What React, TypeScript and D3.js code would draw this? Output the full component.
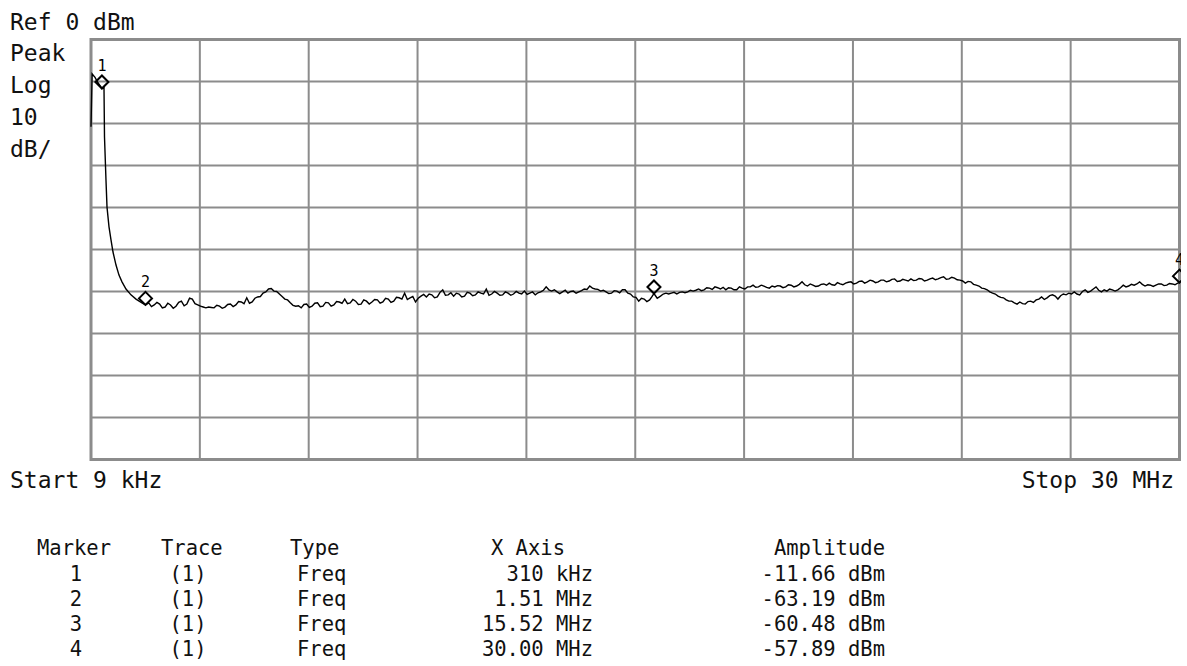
import React from 'react';
import { scaleLinear, line, range } from 'd3';

// sweep: 9 kHz .. 30 MHz, 0 dBm ref, 10 dB/div
const startMHz = 0.009;
const stopMHz = 30;

// [MHz, dBm] - carrier at the start of the sweep
const peakTrace = [
  [0.009, -20.8], [0.04, -8.2], [0.12, -9.0], [0.2, -10.3], [0.31, -11.66],
  [0.367, -11.4], [0.381, -23.2], [0.422, -33.5], [0.45, -39.9], [0.505, -44.6],
  [0.56, -47.7], [0.615, -50.6], [0.698, -53.7], [0.78, -56.1], [0.863, -57.7],
  [0.973, -59.4], [1.11, -60.8], [1.248, -61.8], [1.413, -62.7], [1.51, -63.19],
];

// noise floor
const floorTrace = [
  [1.6, -62.7], [1.675, -63.6], [1.75, -63.2], [1.825, -62.6], [1.9, -63.0], [1.975, -63.9],
  [2.05, -63.7], [2.125, -62.8], [2.2, -63.2], [2.275, -64.0], [2.35, -63.5], [2.425, -62.6],
  [2.5, -62.3], [2.575, -63.4], [2.65, -63.0], [2.725, -61.6], [2.8, -61.8], [2.875, -62.9],
  [2.95, -63.2], [3.025, -63.5], [3.1, -63.7], [3.175, -63.9], [3.25, -63.7], [3.325, -63.8],
  [3.4, -63.9], [3.475, -63.3], [3.55, -63.5], [3.625, -64.0], [3.7, -63.7], [3.775, -63.1],
  [3.85, -63.0], [3.925, -63.6], [4.0, -63.2], [4.075, -62.4], [4.15, -62.5], [4.225, -62.9],
  [4.3, -61.5], [4.375, -62.8], [4.45, -62.5], [4.525, -61.6], [4.6, -61.3], [4.675, -61.2],
  [4.75, -60.4], [4.825, -60.1], [4.9, -59.4], [4.975, -59.3], [5.05, -59.9], [5.125, -60.0],
  [5.2, -60.6], [5.275, -61.2], [5.35, -61.8], [5.425, -62.0], [5.5, -62.7], [5.575, -63.3],
  [5.65, -63.5], [5.725, -63.4], [5.8, -63.9], [5.875, -63.1], [5.95, -63.0], [6.025, -63.8],
  [6.1, -63.5], [6.175, -62.8], [6.25, -62.7], [6.325, -63.6], [6.4, -63.5], [6.475, -62.6],
  [6.55, -62.7], [6.625, -63.5], [6.7, -63.2], [6.775, -62.4], [6.85, -62.5], [6.925, -62.8],
  [7.0, -61.8], [7.075, -62.9], [7.15, -62.7], [7.225, -61.9], [7.3, -62.3], [7.375, -63.1],
  [7.45, -63.0], [7.525, -62.0], [7.6, -62.3], [7.675, -63.0], [7.75, -62.5], [7.825, -61.9],
  [7.9, -62.0], [7.975, -62.8], [8.05, -62.5], [8.125, -61.6], [8.2, -61.8], [8.275, -62.6],
  [8.35, -62.3], [8.425, -61.4], [8.5, -61.5], [8.575, -61.8], [8.65, -60.4], [8.725, -61.9],
  [8.8, -61.5], [8.875, -61.2], [8.95, -62.5], [9.025, -61.6], [9.1, -61.1], [9.175, -60.7],
  [9.25, -61.3], [9.325, -60.6], [9.4, -60.8], [9.475, -61.5], [9.55, -61.3], [9.625, -60.2],
  [9.7, -59.6], [9.775, -60.9], [9.85, -60.8], [9.925, -60.3], [10.0, -61.1], [10.075, -60.4],
  [10.15, -60.6], [10.225, -61.3], [10.3, -61.1], [10.375, -60.2], [10.45, -60.4], [10.525, -61.0],
  [10.6, -60.8], [10.675, -60.1], [10.75, -60.4], [10.825, -60.6], [10.9, -59.4], [10.975, -60.9],
  [11.05, -60.6], [11.125, -60.0], [11.2, -60.4], [11.275, -60.9], [11.35, -60.8], [11.425, -60.1],
  [11.5, -60.4], [11.575, -60.9], [11.65, -60.6], [11.725, -60.0], [11.8, -60.4], [11.875, -60.6],
  [11.95, -59.9], [12.025, -60.7], [12.1, -60.4], [12.175, -60.1], [12.25, -60.8], [12.325, -60.3],
  [12.4, -60.1], [12.475, -59.7], [12.55, -58.9], [12.625, -59.6], [12.7, -59.9], [12.775, -59.6],
  [12.85, -60.1], [12.925, -60.5], [13.0, -60.1], [13.075, -59.7], [13.15, -60.4], [13.225, -60.0],
  [13.3, -59.9], [13.375, -60.4], [13.45, -60.1], [13.525, -59.8], [13.6, -59.4], [13.675, -59.5],
  [13.75, -58.7], [13.825, -59.2], [13.9, -59.4], [13.975, -59.5], [14.05, -59.9], [14.125, -59.7],
  [14.2, -60.1], [14.275, -60.5], [14.35, -60.4], [14.425, -59.8], [14.5, -59.9], [14.575, -60.3],
  [14.65, -59.6], [14.725, -59.6], [14.8, -60.4], [14.875, -60.6], [14.95, -61.3], [15.025, -61.4],
  [15.1, -62.3], [15.175, -61.6], [15.25, -61.8], [15.325, -62.4], [15.4, -62.0], [15.46, -61.3],
  [15.52, -60.48], [15.61, -61.6], [15.7, -61.1], [15.775, -60.6], [15.85, -60.4], [15.925, -60.6],
  [16.0, -60.4], [16.075, -60.2], [16.15, -60.6], [16.225, -60.2], [16.3, -60.1], [16.375, -60.3],
  [16.45, -60.1], [16.525, -59.7], [16.6, -59.9], [16.675, -59.7], [16.75, -59.4], [16.825, -59.8],
  [16.9, -59.6], [16.975, -59.1], [17.05, -59.2], [17.125, -59.5], [17.2, -58.9], [17.275, -59.1],
  [17.35, -59.4], [17.425, -59.0], [17.5, -59.6], [17.575, -59.1], [17.65, -59.2], [17.725, -59.6],
  [17.8, -59.6], [17.875, -58.9], [17.95, -59.2], [18.025, -59.4], [18.1, -58.9], [18.175, -58.9],
  [18.25, -58.5], [18.325, -59.0], [18.4, -58.9], [18.475, -58.5], [18.55, -58.7], [18.625, -59.0],
  [18.7, -59.2], [18.775, -58.7], [18.85, -58.9], [18.925, -58.6], [19.0, -58.7], [19.075, -59.1],
  [19.15, -58.9], [19.225, -58.4], [19.3, -58.5], [19.375, -58.9], [19.45, -58.7], [19.525, -58.3],
  [19.6, -57.7], [19.675, -58.4], [19.75, -58.7], [19.825, -58.2], [19.9, -58.5], [19.975, -58.8],
  [20.05, -58.7], [20.125, -58.3], [20.2, -58.2], [20.275, -58.5], [20.35, -58.0], [20.425, -58.4],
  [20.5, -58.5], [20.575, -57.9], [20.65, -58.2], [20.725, -58.4], [20.8, -58.0], [20.875, -57.8],
  [20.95, -57.7], [21.025, -58.2], [21.1, -58.0], [21.175, -57.6], [21.25, -57.5], [21.325, -58.0],
  [21.4, -57.7], [21.475, -57.3], [21.55, -57.5], [21.625, -57.9], [21.7, -57.7], [21.775, -57.3],
  [21.85, -57.3], [21.925, -57.7], [22.0, -57.5], [22.075, -57.1], [22.15, -57.0], [22.225, -57.6],
  [22.3, -57.5], [22.375, -57.1], [22.45, -57.3], [22.525, -57.5], [22.6, -57.0], [22.675, -57.4],
  [22.75, -57.3], [22.825, -56.9], [22.9, -57.0], [22.975, -57.5], [23.05, -57.3], [23.125, -57.0],
  [23.2, -56.8], [23.275, -57.2], [23.35, -57.0], [23.425, -56.7], [23.5, -56.5], [23.575, -57.1],
  [23.65, -57.0], [23.725, -56.6], [23.8, -56.8], [23.875, -57.2], [23.95, -57.3], [24.025, -57.5],
  [24.1, -58.0], [24.175, -57.6], [24.25, -57.7], [24.325, -58.3], [24.4, -58.5], [24.475, -58.7],
  [24.55, -59.2], [24.625, -59.3], [24.7, -59.6], [24.775, -60.1], [24.85, -60.4], [24.925, -60.6],
  [25.0, -61.1], [25.075, -61.4], [25.15, -61.5], [25.225, -62.0], [25.3, -62.3], [25.375, -62.3],
  [25.45, -62.7], [25.525, -63.0], [25.6, -62.5], [25.675, -62.9], [25.75, -63.0], [25.825, -62.4],
  [25.9, -62.3], [25.975, -62.6], [26.05, -62.0], [26.125, -61.8], [26.2, -61.3], [26.275, -61.9],
  [26.35, -61.5], [26.425, -61.0], [26.5, -60.8], [26.575, -61.1], [26.65, -61.8], [26.725, -61.0],
  [26.8, -60.6], [26.875, -60.8], [26.95, -60.4], [27.025, -60.6], [27.1, -60.1], [27.175, -60.6],
  [27.25, -60.8], [27.325, -60.0], [27.4, -59.6], [27.475, -60.2], [27.55, -59.9], [27.625, -59.4],
  [27.7, -58.9], [27.775, -59.7], [27.85, -60.1], [27.925, -59.6], [28.0, -59.9], [28.075, -59.4],
  [28.15, -59.6], [28.225, -59.9], [28.3, -59.6], [28.375, -59.1], [28.45, -58.5], [28.525, -58.9],
  [28.6, -58.7], [28.675, -58.3], [28.75, -58.5], [28.825, -58.2], [28.9, -57.7], [28.975, -58.3],
  [29.05, -58.7], [29.125, -58.4], [29.2, -58.5], [29.275, -58.8], [29.35, -58.5], [29.425, -58.2],
  [29.5, -58.2], [29.575, -58.6], [29.65, -58.5], [29.725, -58.1], [29.8, -58.2], [29.875, -58.4],
  [29.95, -58.0], [30.0, -57.89],
];

// marker table
const markerIds = ['1', '2', '3', '4'];
const markerFreqs = [0.31, 1.51, 15.52, 30.0];
const markerLabels = ['310 kHz', '1.51 MHz', '15.52 MHz', '30.00 MHz'];
const markerAmps = [-11.66, -63.19, -60.48, -57.89];

const sideLabels = ['Peak', 'Log', '10', 'dB/'];

const W = 1187;
const H = 666;
const plot = { left: 91, right: 1179.5, top: 39.5, bottom: 459.5 };
const font = '"DejaVu Sans Mono", monospace';
const gridColor = '#8c8c8c';

const x = scaleLinear().domain([startMHz, stopMHz]).range([plot.left, plot.right]);
const y = scaleLinear().domain([0, -100]).range([plot.top, plot.bottom]);

const traceLine = line<number[]>()
  .x((d) => x(d[0]))
  .y((d) => y(d[1]));

const App = () => {
  const vGrid = range(1, 10).map((i) => startMHz + (i * (stopMHz - startMHz)) / 10);
  const hGrid = y.ticks(10).filter((t) => t < 0 && t > -100);
  const trace = [...peakTrace, ...floorTrace];

  const rowY = [581, 606, 631, 656];

  return (
    <svg
      width={W}
      height={H}
      style={{ position: 'absolute', left: 0, top: 0, background: '#fff' }}
      fontFamily={font}
    >
      <defs>
        <clipPath id="plot-clip">
          <rect x={plot.left - 2} y={0} width={plot.right - plot.left + 3.5} height={plot.bottom + 2} />
        </clipPath>
      </defs>

      {/* grid */}
      {vGrid.map((f) => (
        <line key={`v${f}`} x1={x(f)} x2={x(f)} y1={plot.top} y2={plot.bottom}
          stroke={gridColor} strokeWidth={2} />
      ))}
      {hGrid.map((t) => (
        <line key={`h${t}`} x1={plot.left} x2={plot.right} y1={y(t)} y2={y(t)}
          stroke={gridColor} strokeWidth={2} />
      ))}
      <rect x={plot.left} y={plot.top} width={plot.right - plot.left} height={plot.bottom - plot.top}
        fill="none" stroke={gridColor} strokeWidth={3} />

      <g clipPath="url(#plot-clip)">
        <path d={traceLine(trace) || ''} fill="none" stroke="#000" strokeWidth={1.4}
          strokeLinejoin="miter" />
        {markerFreqs.map((f, i) => {
          const cx = x(f);
          const cy = y(markerAmps[i]) - 6.5;
          return (
            <g key={markerIds[i]}>
              <path
                d={`M${cx - 6.5},${cy} L${cx},${cy - 6.5} L${cx + 6.5},${cy} L${cx},${cy + 6.5} Z`}
                fill="none" stroke="#000" strokeWidth={2}
              />
              <text x={cx} y={cy - 11} fontSize={15} textAnchor="middle" fill="#000">{markerIds[i]}</text>
            </g>
          );
        })}
      </g>

      {/* screen annotations */}
      <text x={10} y={30} fontSize={23} fill="#111">Ref 0 dBm</text>
      {sideLabels.map((s, i) => (
        <text key={s} x={10} y={61 + i * 32} fontSize={23} fill="#111">{s}</text>
      ))}
      <text x={10} y={488} fontSize={23} fill="#111">Start 9 kHz</text>
      <text x={1174} y={488} fontSize={23} fill="#111" textAnchor="end">Stop 30 MHz</text>

      {/* marker table */}
      <g fontSize={20.5} fill="#111">
        <text x={37} y={555}>Marker</text>
        <text x={161} y={555}>Trace</text>
        <text x={290} y={555}>Type</text>
        <text x={565} y={555} textAnchor="end">X Axis</text>
        <text x={885} y={555} textAnchor="end">Amplitude</text>
        {markerIds.map((id, i) => (
          <g key={`row${id}`}>
            <text x={76} y={rowY[i]} textAnchor="middle">{id}</text>
            <text x={188} y={rowY[i]} textAnchor="middle">(1)</text>
            <text x={297} y={rowY[i]}>Freq</text>
            <text x={593} y={rowY[i]} textAnchor="end">{markerLabels[i]}</text>
            <text x={885} y={rowY[i]} textAnchor="end">{`${markerAmps[i].toFixed(2)} dBm`}</text>
          </g>
        ))}
      </g>
    </svg>
  );
};

export default App;
